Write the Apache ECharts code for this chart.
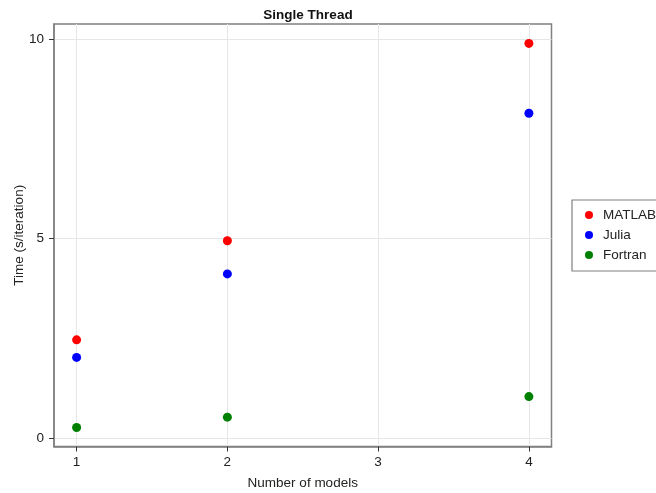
<!DOCTYPE html>
<html>
<head>
<meta charset="utf-8">
<script src="https://cdn.jsdelivr.net/npm/echarts@6/dist/echarts.min.js"></script>
<style>html,body{margin:0;padding:0;background:#fff}#c{width:656px;height:493px}</style>
</head>
<body>
<div id="c"></div>
<script>
const models = [1, 2, 4];
const matlab = [2.47, 4.95, 9.89];
const julia = [2.03, 4.12, 8.14];
const fortran = [0.275, 0.535, 1.05];
const xTicks = [1, 2, 3, 4];
const yTicks = [0, 5, 10];

const FONT = 'Liberation Sans';
const chart = echarts.init(document.getElementById('c'));
function pts(v) { return models.map((m, i) => [m, v[i]]); }
function ser(name, vals, color) {
  return { name, type: 'scatter', data: pts(vals), symbol: 'circle', symbolSize: 9,
    itemStyle: { color, opacity: 1 }, emphasis: { disabled: true } };
}
const axisCommon = {
  axisLine: { show: true, onZero: false, lineStyle: { color: '#808080', width: 1.5 } },
  axisTick: { show: true, length: 5, lineStyle: { color: '#333', width: 1 } },
  splitLine: { show: true, lineStyle: { color: '#e6e6e6', width: 1 } },
  nameMoveOverlap: false,
  nameTextStyle: { fontFamily: FONT, fontSize: 13.5, color: '#222' }
};
chart.setOption({
  animation: false,
  textStyle: { fontFamily: FONT },
  title: { text: 'Single Thread', left: 303, top: 3, textAlign: 'center',
    textStyle: { fontFamily: FONT, fontSize: 13.5, fontWeight: 'bold', color: '#111' } },
  grid: { left: 54, right: 104.5, top: 24, bottom: 46.5, show: true,
    borderColor: '#808080', borderWidth: 1.5, outerBoundsMode: 'none', containLabel: false },
  legend: {
    orient: 'vertical', left: 572, top: 200, padding: [7, 40, 8, 13],
    itemWidth: 18, itemHeight: 8, itemGap: 4, icon: 'circle',
    borderColor: '#808080', borderWidth: 1.2,
    textStyle: { fontFamily: FONT, fontSize: 13.5, color: '#222', lineHeight: 16 },
    data: ['MATLAB', 'Julia', 'Fortran']
  },
  xAxis: Object.assign({}, axisCommon, {
    type: 'value', min: 0.85, max: 4.15,
    name: 'Number of models', nameLocation: 'middle', nameGap: 30,
    axisTick: Object.assign({}, axisCommon.axisTick, { customValues: xTicks }),
    axisLabel: { customValues: xTicks, margin: 9, fontFamily: FONT, fontSize: 13.5, color: '#222' }
  }),
  yAxis: Object.assign({}, axisCommon, {
    type: 'value', min: -0.2, max: 10.375,
    name: 'Time (s/iteration)', nameLocation: 'middle', nameGap: 28,
    axisTick: Object.assign({}, axisCommon.axisTick, { customValues: yTicks }),
    axisLabel: { customValues: yTicks, margin: 10, fontFamily: FONT, fontSize: 13.5, color: '#222' }
  }),
  series: [ser('MATLAB', matlab, '#ff0000'), ser('Julia', julia, '#0000ff'), ser('Fortran', fortran, '#008000')]
});
</script>
</body>
</html>
